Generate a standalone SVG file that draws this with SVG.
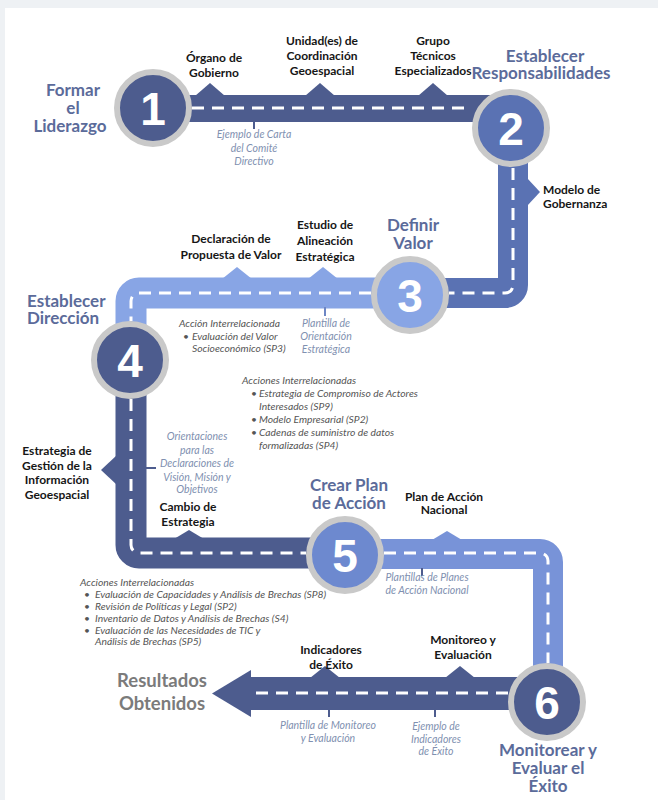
<svg xmlns="http://www.w3.org/2000/svg" width="658" height="800" viewBox="0 0 658 800">
<style>
text{font-family:Lato,"Open Sans","Liberation Sans",sans-serif}
.title{font-weight:700;font-size:17px;fill:#5b6b9a}
.c{text-anchor:middle}
.num{font-family:"Liberation Sans",Arial,sans-serif;font-weight:700;font-size:46px;fill:#fff;text-anchor:middle}
.lbl{font-weight:700;font-size:12px;fill:#161616;text-anchor:middle}
.tpl{font-style:italic;font-size:10.5px;fill:#8090b0;text-anchor:middle}
.act{font-style:italic;font-size:10.3px;fill:#555}
.ring{stroke:#c9c9c9;stroke-width:6}
.road{fill:none;stroke-linejoin:round}
.dash{fill:none;stroke:#fff;stroke-width:3;stroke-dasharray:12 8}
.dk{fill:#4d5c8e}.md{fill:#5a72b3}.lt{fill:#88a5e5}.m5{fill:#7591d6}
.tick{stroke-width:2}
</style>
<rect width="658" height="800" fill="#eef1f4"/>
<rect x="5" y="8" width="653" height="792" fill="#fff"/>

<g id="connectors">
  <!-- road 1 -->
  <path class="road" d="M153 108.5H512" stroke="#4d5c8e" stroke-width="27"/>
  <polygon class="dk" points="195,96 210,83 225,96"/>
  <polygon class="dk" points="305,96 320,83 335,96"/>
  <polygon class="dk" points="418,96 433,83 448,96"/>
  <line class="tick" x1="254" y1="121" x2="254" y2="129" stroke="#4d5c8e"/>
  <path class="dash" d="M192 108H472"/>
  <!-- road 2 -->
  <path class="road" d="M513 128V285A8 8 0 0 1 505 293H410" stroke="#5a72b3" stroke-width="30"/>
  <polygon class="md" points="527,178 540,192 527,206"/>
  <path class="dash" d="M513 168V285A8 8 0 0 1 505 293H449"/>
  <!-- road 3 -->
  <path class="road" d="M410 293H139A8 8 0 0 0 131 301V360" stroke="#88a5e5" stroke-width="31"/>
  <polygon class="lt" points="222,279 237,267 252,279"/>
  <polygon class="lt" points="308,279 323,267 338,279"/>
  <line class="tick" x1="325" y1="307" x2="325" y2="316" stroke="#6d86c4"/>
  <path class="dash" d="M371 293H139A8 8 0 0 0 131 301V321"/>
  <!-- road 4 -->
  <path class="road" d="M131 360V545A8 8 0 0 0 139 553H345" stroke="#4d5c8e" stroke-width="31"/>
  <polygon class="dk" points="117,455 101,470 117,485"/>
  <polygon class="dk" points="174,539 189,530 204,539"/>
  <line class="tick" x1="145" y1="468" x2="156" y2="468" stroke="#4d5c8e"/>
  <path class="dash" d="M131 399V545A8 8 0 0 0 139 553H306"/>
  <!-- road 5 -->
  <path class="road" d="M345 554H540A8 8 0 0 1 548 562V702" stroke="#7893d8" stroke-width="30"/>
  <polygon class="m5" points="432,540 447,531 462,540" style="fill:#7893d8"/>
  <line class="tick" x1="422" y1="568" x2="422" y2="576" stroke="#4d5c8e"/>
  <path class="dash" d="M384 553H540A8 8 0 0 1 548 561V663"/>
  <!-- road 6 -->
  <path class="road" d="M547 693.5H249" stroke="#4d5c8e" stroke-width="33"/>
  <polygon class="dk" points="251,670 212,693.5 251,717"/>
  <polygon class="dk" points="310,678 325,666 340,678"/>
  <polygon class="dk" points="445,678 460,666 475,678"/>
  <line class="tick" x1="329" y1="709" x2="329" y2="717" stroke="#4d5c8e"/>
  <line class="tick" x1="435" y1="709" x2="435" y2="717" stroke="#4d5c8e"/>
  <path class="dash" d="M508 693H252"/>
</g>

<g id="step1">
  <circle class="ring" cx="153" cy="108" r="36" fill="#4d5c8e"/>
  <text class="num" x="153" y="125">1</text>
  <text class="title c" x="73" y="96">Formar</text>
  <text class="title c" x="73" y="114">el</text>
  <text class="title c" x="70" y="132">Liderazgo</text>
</g>
<g id="step2">
  <circle class="ring" cx="511" cy="128" r="36" fill="#5a72b3"/>
  <text class="num" x="511" y="145">2</text>
  <text class="title c" x="545" y="62">Establecer</text>
  <text class="title c" x="541" y="79">Responsabilidades</text>
</g>
<g id="step3">
  <circle class="ring" cx="410" cy="295" r="36" fill="#88a5e5"/>
  <text class="num" x="410" y="312">3</text>
  <text class="title c" x="413" y="231">Definir</text>
  <text class="title c" x="413" y="249">Valor</text>
</g>
<g id="step4">
  <circle class="ring" cx="130" cy="360" r="36" fill="#4d5c8e"/>
  <text class="num" x="130" y="377">4</text>
  <text class="title" x="27" y="307">Establecer</text>
  <text class="title" x="27" y="324">Dirección</text>
</g>
<g id="step5">
  <circle class="ring" cx="345" cy="555" r="36" fill="#6d89cf"/>
  <text class="num" x="345" y="572">5</text>
  <text class="title c" x="349" y="491">Crear Plan</text>
  <text class="title c" x="349" y="509">de Acción</text>
</g>
<g id="step6">
  <circle class="ring" cx="547" cy="702" r="36" fill="#4d5c8e"/>
  <text class="num" x="547" y="719">6</text>
  <text class="title c" x="548" y="756">Monitorear y</text>
  <text class="title c" x="548" y="774">Evaluar el</text>
  <text class="title c" x="548" y="792">Éxito</text>
</g>
<g id="resultados">
  <text class="title c" x="162" y="687" style="fill:#7b7b7b;font-size:18.5px">Resultados</text>
  <text class="title c" x="162" y="710" style="fill:#7b7b7b;font-size:18.5px">Obtenidos</text>
</g>

<g id="deliverables">
  <text class="lbl" x="214" y="62">Órgano de</text>
  <text class="lbl" x="214" y="77">Gobierno</text>
  <text class="lbl" x="322" y="45">Unidad(es) de</text>
  <text class="lbl" x="322" y="60">Coordinación</text>
  <text class="lbl" x="322" y="75">Geoespacial</text>
  <text class="lbl" x="433" y="45">Grupo</text>
  <text class="lbl" x="433" y="60">Técnicos</text>
  <text class="lbl" x="433" y="75">Especializados</text>
  <text class="lbl" x="543" y="194" style="text-anchor:start">Modelo de</text>
  <text class="lbl" x="543" y="208" style="text-anchor:start">Gobernanza</text>
  <text class="lbl" x="231" y="243">Declaración de</text>
  <text class="lbl" x="231" y="259">Propuesta de Valor</text>
  <text class="lbl" x="325" y="229">Estudio de</text>
  <text class="lbl" x="325" y="245">Alineación</text>
  <text class="lbl" x="325" y="261">Estratégica</text>
  <text class="lbl" x="57" y="455">Estrategia de</text>
  <text class="lbl" x="57" y="470">Gestión de la</text>
  <text class="lbl" x="57" y="484">Información</text>
  <text class="lbl" x="57" y="499">Geoespacial</text>
  <text class="lbl" x="188" y="511">Cambio de</text>
  <text class="lbl" x="188" y="526">Estrategia</text>
  <text class="lbl" x="444" y="501">Plan de Acción</text>
  <text class="lbl" x="444" y="514">Nacional</text>
  <text class="lbl" x="331" y="654">Indicadores</text>
  <text class="lbl" x="331" y="669">de Éxito</text>
  <text class="lbl" x="463" y="644">Monitoreo y</text>
  <text class="lbl" x="463" y="659">Evaluación</text>
</g>

<g id="templates">
  <text class="tpl" x="254" y="138">Ejemplo de Carta</text>
  <text class="tpl" x="254" y="152">del Comité</text>
  <text class="tpl" x="254" y="165">Directivo</text>
  <text class="tpl" x="326" y="327">Plantilla de</text>
  <text class="tpl" x="326" y="340">Orientación</text>
  <text class="tpl" x="326" y="353">Estratégica</text>
  <text class="tpl" x="197" y="440">Orientaciones</text>
  <text class="tpl" x="197" y="454">para las</text>
  <text class="tpl" x="197" y="467">Declaraciones de</text>
  <text class="tpl" x="197" y="481">Visión, Misión y</text>
  <text class="tpl" x="197" y="493">Objetivos</text>
  <text class="tpl" x="427" y="581">Plantillas de Planes</text>
  <text class="tpl" x="427" y="594">de Acción Nacional</text>
  <text class="tpl" x="328" y="729">Plantilla de Monitoreo</text>
  <text class="tpl" x="328" y="742">y Evaluación</text>
  <text class="tpl" x="436" y="730">Ejemplo de</text>
  <text class="tpl" x="436" y="743">Indicadores</text>
  <text class="tpl" x="436" y="755">de Éxito</text>
</g>

<g id="actions">
  <text class="act" x="179" y="327">Acción Interrelacionada</text>
  <text class="act" x="183" y="340">•</text>
  <text class="act" x="192" y="340">Evaluación del Valor</text>
  <text class="act" x="192" y="352">Socioeconómico (SP3)</text>

  <text class="act" x="242" y="384">Acciones Interrelacionadas</text>
  <text class="act" x="251" y="397">•</text>
  <text class="act" x="259" y="397">Estrategia de Compromiso de Actores</text>
  <text class="act" x="259" y="410">Interesados (SP9)</text>
  <text class="act" x="251" y="423">•</text>
  <text class="act" x="259" y="423">Modelo Empresarial (SP2)</text>
  <text class="act" x="251" y="436">•</text>
  <text class="act" x="259" y="436">Cadenas de suministro de datos</text>
  <text class="act" x="259" y="449">formalizadas (SP4)</text>

  <text class="act" x="80" y="586">Acciones Interrelacionadas</text>
  <text class="act" x="84" y="598">•</text>
  <text class="act" x="95" y="598">Evaluación de Capacidades y Análisis de Brechas (SP8)</text>
  <text class="act" x="84" y="610">•</text>
  <text class="act" x="95" y="610">Revisión de Políticas y Legal (SP2)</text>
  <text class="act" x="84" y="622">•</text>
  <text class="act" x="95" y="622">Inventario de Datos y Análisis de Brechas (S4)</text>
  <text class="act" x="84" y="634">•</text>
  <text class="act" x="95" y="634">Evaluación de las Necesidades de TIC y</text>
  <text class="act" x="95" y="645">Análisis de Brechas (SP5)</text>
</g>
</svg>
